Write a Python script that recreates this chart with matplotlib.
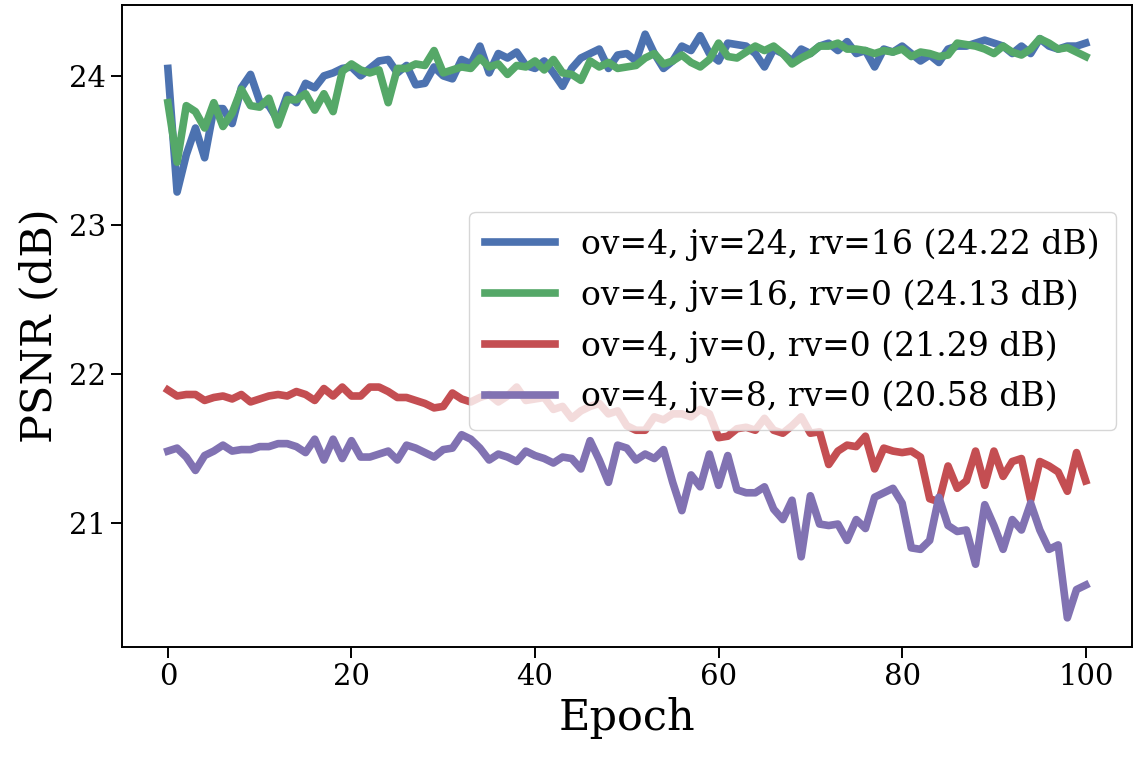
import matplotlib
matplotlib.use("agg")
import numpy as np
import matplotlib.pyplot as plt

plt.rcParams['font.family'] = ['DejaVu Serif']

epochs = np.arange(101)

# PSNR per epoch
psnr_jv24_rv16 = [
    24.05, 23.22, 23.47, 23.65, 23.45, 23.78, 23.78, 23.68, 23.92, 24.01,
    23.83, 23.80, 23.70, 23.87, 23.82, 23.95, 23.92, 24.00, 24.02, 24.05,
    24.06, 24.00, 24.05, 24.10, 24.11, 24.02, 24.07, 23.94, 23.95, 24.06,
    24.00, 23.98, 24.11, 24.08, 24.20, 24.02, 24.15, 24.12, 24.16, 24.07,
    24.05, 24.10, 24.02, 23.93, 24.05, 24.12, 24.15, 24.18, 24.05, 24.14,
    24.15, 24.10, 24.28, 24.15, 24.05, 24.10, 24.20, 24.17, 24.27, 24.15,
    24.10, 24.22, 24.21, 24.20, 24.15, 24.06, 24.18, 24.15, 24.10, 24.18,
    24.15, 24.20, 24.22, 24.17, 24.23, 24.15, 24.17, 24.06, 24.18, 24.16,
    24.20, 24.15, 24.10, 24.14, 24.09, 24.18, 24.20, 24.20, 24.22, 24.24,
    24.22, 24.20, 24.15, 24.20, 24.15, 24.25, 24.20, 24.18, 24.20, 24.20,
    24.22]

psnr_jv16_rv0 = [
    23.82, 23.42, 23.80, 23.76, 23.65, 23.82, 23.66, 23.75, 23.91, 23.80,
    23.79, 23.85, 23.67, 23.84, 23.84, 23.88, 23.77, 23.88, 23.76, 24.03,
    24.08, 24.04, 24.02, 24.04, 23.82, 24.05, 24.05, 24.08, 24.07, 24.17,
    24.02, 24.04, 24.06, 24.05, 24.12, 24.06, 24.08, 24.01, 24.07, 24.06,
    24.10, 24.04, 24.11, 24.02, 24.01, 23.97, 24.10, 24.06, 24.09, 24.05,
    24.06, 24.07, 24.12, 24.15, 24.08, 24.10, 24.14, 24.09, 24.06, 24.11,
    24.22, 24.13, 24.12, 24.16, 24.20, 24.17, 24.20, 24.15, 24.08, 24.12,
    24.15, 24.20, 24.20, 24.22, 24.18, 24.18, 24.17, 24.15, 24.17, 24.16,
    24.18, 24.13, 24.16, 24.15, 24.13, 24.14, 24.22, 24.21, 24.20, 24.18,
    24.15, 24.20, 24.16, 24.14, 24.18, 24.25, 24.22, 24.18, 24.19, 24.16,
    24.13]

psnr_jv0_rv0 = [
    21.89, 21.85, 21.86, 21.86, 21.82, 21.84, 21.85, 21.83, 21.86, 21.81,
    21.83, 21.85, 21.86, 21.85, 21.88, 21.86, 21.82, 21.90, 21.85, 21.91,
    21.85, 21.85, 21.91, 21.91, 21.88, 21.84, 21.84, 21.82, 21.80, 21.77,
    21.78, 21.87, 21.83, 21.81, 21.84, 21.86, 21.81, 21.85, 21.91, 21.82,
    21.83, 21.84, 21.76, 21.78, 21.70, 21.75, 21.78, 21.80, 21.73, 21.75,
    21.65, 21.62, 21.62, 21.71, 21.69, 21.73, 21.73, 21.71, 21.76, 21.73,
    21.57, 21.58, 21.63, 21.64, 21.62, 21.70, 21.62, 21.60, 21.65, 21.71,
    21.60, 21.61, 21.39, 21.48, 21.52, 21.51, 21.58, 21.36, 21.50, 21.48,
    21.47, 21.48, 21.44, 21.16, 21.14, 21.38, 21.23, 21.28, 21.48, 21.25,
    21.48, 21.31, 21.41, 21.43, 21.15, 21.41, 21.38, 21.34, 21.21, 21.47,
    21.28]

psnr_jv8_rv0 = [
    21.48, 21.50, 21.44, 21.35, 21.45, 21.48, 21.52, 21.48, 21.49, 21.49,
    21.51, 21.51, 21.53, 21.53, 21.51, 21.47, 21.56, 21.42, 21.56, 21.43,
    21.55, 21.44, 21.44, 21.46, 21.48, 21.42, 21.52, 21.50, 21.47, 21.44,
    21.49, 21.50, 21.59, 21.56, 21.50, 21.42, 21.46, 21.44, 21.41, 21.48,
    21.45, 21.43, 21.40, 21.44, 21.43, 21.36, 21.55, 21.42, 21.27, 21.52,
    21.50, 21.42, 21.46, 21.43, 21.49, 21.27, 21.08, 21.32, 21.24, 21.46,
    21.25, 21.45, 21.22, 21.20, 21.20, 21.24, 21.09, 21.02, 21.15, 20.77,
    21.18, 20.99, 20.98, 20.99, 20.88, 21.02, 20.96, 21.17, 21.20, 21.23,
    21.13, 20.83, 20.82, 20.88, 21.17, 20.98, 20.94, 20.95, 20.72, 21.12,
    20.98, 20.82, 21.02, 20.95, 21.13, 20.95, 20.82, 20.85, 20.36, 20.55,
    20.58]

labels = [
    'ov=4, jv=24, rv=16 (24.22 dB)',
    'ov=4, jv=16, rv=0 (24.13 dB)',
    'ov=4, jv=0, rv=0 (21.29 dB)',
    'ov=4, jv=8, rv=0 (20.58 dB)',
]
colors = ['#4C72B0', '#55A868', '#C44E52', '#8172B2']

fig = plt.figure(figsize=(11.35, 7.58), dpi=100)
ax = fig.add_axes([0.1075, 0.1464, 0.8895, 0.847])

series = [psnr_jv24_rv16, psnr_jv16_rv0, psnr_jv0_rv0, psnr_jv8_rv0]
for values, label, color in zip(series, labels, colors):
    ax.plot(epochs, values, color=color, linewidth=5.5, label=label)

ax.set_xlabel('Epoch', fontsize=31, labelpad=4)
ax.set_ylabel('PSNR (dB)', fontsize=31, labelpad=6)
ax.set_xticks([0, 20, 40, 60, 80, 100])
ax.set_yticks([21, 22, 23, 24])
ax.tick_params(labelsize=21, length=8, width=1.4)
for spine in ax.spines.values():
    spine.set_linewidth(1.4)

ax.legend(loc='center right', bbox_to_anchor=(0.985, 0.508), borderaxespad=0,
          fontsize=23.8, framealpha=0.8, handlelength=2.1, labelspacing=0.55,
          borderpad=0.5, handletextpad=0.8)

plt.savefig('out.png', dpi=100)
plt.close()
